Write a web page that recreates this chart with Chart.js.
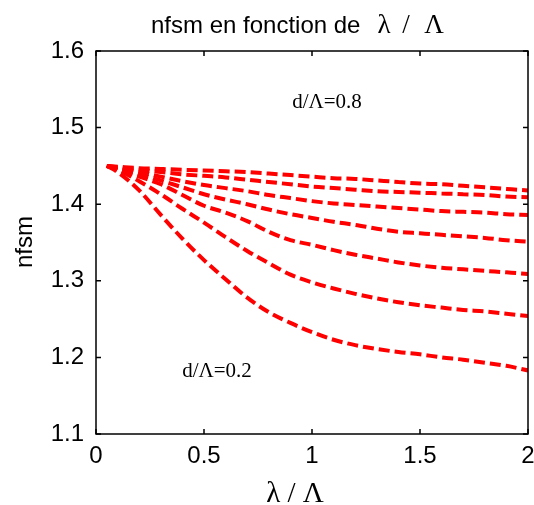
<!DOCTYPE html>
<html>
<head>
<meta charset="utf-8">
<script src="https://cdn.jsdelivr.net/npm/chart.js@4.4.1/dist/chart.umd.min.js"></script>
<style>
  html, body { margin: 0; padding: 0; background: #fff; overflow: hidden; }
  #wrap { width: 534px; height: 505px; position: relative; }
</style>
</head>
<body>
<div id="wrap"><canvas id="c" width="534" height="505"></canvas></div>
<script>
// ---- data ----
const xs = [0.05,0.1,0.2,0.3,0.4,0.5,0.6,0.7,0.8,0.9,1.0,1.1,1.2,1.3,1.4,1.5,1.6,1.7,1.8,1.9,2.0];
const n08 = [1.450,1.449,1.447,1.446,1.445,1.444,1.443,1.442,1.440,1.438,1.436,1.434,1.433,1.431,1.429,1.427,1.426,1.424,1.422,1.420,1.418];
const n07 = [1.450,1.448,1.445,1.442,1.439,1.437,1.435,1.432,1.429,1.426,1.423,1.421,1.419,1.417,1.416,1.415,1.414,1.413,1.412,1.410,1.409];
const n06 = [1.450,1.447,1.442,1.436,1.430,1.425,1.421,1.417,1.412,1.408,1.404,1.401,1.399,1.397,1.395,1.393,1.391,1.390,1.389,1.387,1.386];
const n05 = [1.450,1.446,1.439,1.431,1.422,1.413,1.406,1.400,1.393,1.387,1.382,1.377,1.373,1.368,1.364,1.362,1.360,1.358,1.356,1.353,1.351];
const n04 = [1.450,1.445,1.436,1.426,1.412,1.398,1.389,1.378,1.364,1.353,1.347,1.340,1.334,1.329,1.324,1.320,1.317,1.315,1.313,1.311,1.309];
const n03 = [1.450,1.445,1.430,1.413,1.394,1.376,1.357,1.339,1.323,1.308,1.298,1.290,1.283,1.277,1.272,1.268,1.265,1.262,1.260,1.257,1.254];
const n02 = [1.450,1.442,1.418,1.386,1.355,1.327,1.302,1.278,1.259,1.245,1.233,1.223,1.216,1.211,1.207,1.204,1.200,1.197,1.193,1.189,1.183];
const seriesLabels = ['d/Λ=0.8','d/Λ=0.7','d/Λ=0.6','d/Λ=0.5','d/Λ=0.4','d/Λ=0.3','d/Λ=0.2'];
const series = [n08, n07, n06, n05, n04, n03, n02];
const xTicks = [0, 0.5, 1, 1.5, 2];
const yTicks = [1.1, 1.2, 1.3, 1.4, 1.5, 1.6];
const titleText = 'nfsm en fonction de';
const titleGreek = ['λ', '/', 'Λ'];
const xLabel = 'λ / Λ';
const yLabel = 'nfsm';
const noteTop = 'd/Λ=0.8';
const noteBottom = 'd/Λ=0.2';

const SANS = '"Liberation Sans", Arial, sans-serif';
const SERIF = '"Liberation Serif", "Times New Roman", serif';

const datasets = series.map((s, i) => ({
  label: seriesLabels[i],
  data: xs.map((x, k) => ({ x: x, y: s[k] })),
  borderColor: '#ff0000',
  borderWidth: 4,
  borderDash: [11, 5],
  pointRadius: 0,
  fill: false,
  cubicInterpolationMode: 'monotone'
}));

const decor = {
  id: 'decor',
  afterDraw(chart) {
    const ctx = chart.ctx;
    const a = chart.chartArea;
    const sx = chart.scales.x, sy = chart.scales.y;
    ctx.save();
    // box
    ctx.strokeStyle = '#000';
    ctx.lineWidth = 1.5;
    ctx.strokeRect(a.left, a.top, a.right - a.left, a.bottom - a.top);
    // inward ticks on all sides
    const L = 5;
    xTicks.forEach(v => {
      const p = sx.getPixelForValue(v);
      ctx.beginPath();
      ctx.moveTo(p, a.bottom); ctx.lineTo(p, a.bottom - L);
      ctx.moveTo(p, a.top); ctx.lineTo(p, a.top + L);
      ctx.stroke();
    });
    yTicks.forEach(v => {
      const p = sy.getPixelForValue(v);
      ctx.beginPath();
      ctx.moveTo(a.left, p); ctx.lineTo(a.left + L, p);
      ctx.moveTo(a.right, p); ctx.lineTo(a.right - L, p);
      ctx.stroke();
    });
    ctx.fillStyle = '#000';
    ctx.textBaseline = 'alphabetic';
    // title (mixed fonts)
    ctx.textAlign = 'left';
    ctx.font = '24px ' + SANS;
    ctx.fillText(titleText, 151, 33);
    ctx.font = '27px ' + SERIF;
    ctx.textAlign = 'center';
    ctx.fillText(titleGreek[0], 384, 33);
    ctx.fillText(titleGreek[1], 406, 33);
    ctx.fillText(titleGreek[2], 434, 33);
    // x label
    ctx.font = '29px ' + SERIF;
    ctx.textAlign = 'center';
    ctx.fillText(xLabel, 295, 502);
    // y label
    ctx.save();
    ctx.translate(32, 242);
    ctx.rotate(-Math.PI / 2);
    ctx.font = '24px ' + SANS;
    ctx.textAlign = 'center';
    ctx.fillText(yLabel, 0, 0);
    ctx.restore();
    // annotations
    ctx.font = '21px ' + SERIF;
    ctx.textAlign = 'center';
    ctx.fillText(noteTop, 327, 108);
    ctx.fillText(noteBottom, 217, 377);
    ctx.restore();
  }
};

new Chart(document.getElementById('c'), {
  type: 'line',
  data: { datasets },
  options: {
    responsive: false,
    animation: false,
    devicePixelRatio: 1,
    layout: { padding: { top: 51, right: 6, left: 0, bottom: 0 } },
    plugins: { legend: { display: false }, title: { display: false }, tooltip: { enabled: false } },
    scales: {
      x: {
        type: 'linear', min: 0, max: 2,
        afterFit(s) { s.height = 71; s.paddingLeft = 0; s.paddingRight = 0; },
        afterBuildTicks(s) { s.ticks = xTicks.map(v => ({ value: v })); },
        ticks: { color: '#000', font: { family: SANS, size: 24 }, padding: 8, maxRotation: 0,
                 callback: v => String(v) },
        grid: { display: true, drawOnChartArea: false, drawTicks: false },
        border: { display: false }
      },
      y: {
        type: 'linear', min: 1.1, max: 1.6,
        afterFit(s) { s.width = 96; s.paddingTop = 0; s.paddingBottom = 0; },
        afterBuildTicks(s) { s.ticks = yTicks.map(v => ({ value: v })); },
        ticks: { color: '#000', font: { family: SANS, size: 24 }, padding: 12,
                 callback: v => Number(v).toFixed(1) },
        grid: { display: true, drawOnChartArea: false, drawTicks: false },
        border: { display: false }
      }
    }
  },
  plugins: [decor]
});
</script>
</body>
</html>
